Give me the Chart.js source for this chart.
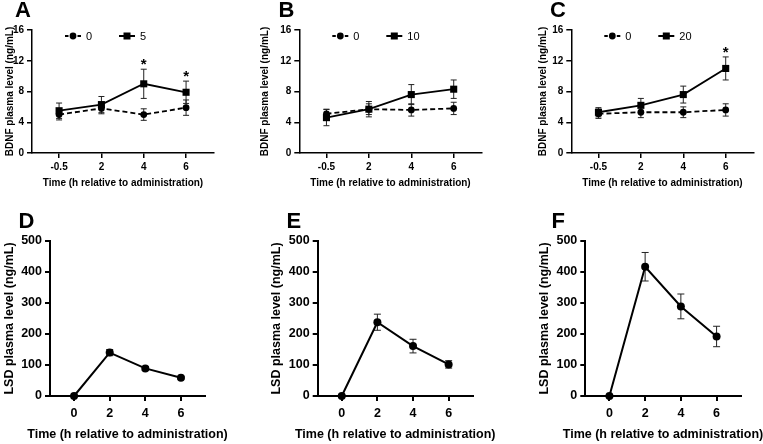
<!DOCTYPE html>
<html>
<head>
<meta charset="utf-8">
<script src="https://cdn.jsdelivr.net/npm/chart.js@4.4.1/dist/chart.umd.min.js"></script>
<style>
  html, body { margin: 0; padding: 0; background: #fff; }
  #wrap { position: relative; width: 763px; height: 444px; overflow: hidden; background: #fff; }
  #wrap canvas { position: absolute; left: 0; top: 0; }
  .lbl { position: absolute; font-family: "Liberation Sans", Arial, sans-serif; font-weight: bold;
         font-size: 22px; line-height: 22px; color: #000; }
</style>
</head>
<body>
<div id="wrap">
  <div class="lbl" style="left:15px;top:-1px">A</div>
  <div class="lbl" style="left:278.5px;top:-1px">B</div>
  <div class="lbl" style="left:550px;top:-1px">C</div>
  <div class="lbl" style="left:18.5px;top:210px">D</div>
  <div class="lbl" style="left:286.5px;top:210px">E</div>
  <div class="lbl" style="left:551.5px;top:210px">F</div>
</div>
<script>
// ---------- DATA ----------
const bdnfTimeLabels = ['-0.5', '2', '4', '6'];
const lsdTimes = [0, 2, 4, 6];

const ctrlA = [5.0, 5.8, 5.0, 5.9];
const ctrlAErr = [0.7, 0.7, 0.75, 1.0];
const doseA = [5.5, 6.3, 9.0, 7.9];
const doseAErr = [1.0, 1.05, 1.9, 1.45];
const sigA = ['', '', '*', '*'];

const ctrlB = [5.1, 5.7, 5.6, 5.8];
const ctrlBErr = [0.6, 0.7, 0.8, 0.8];
const doseB = [4.6, 5.7, 7.6, 8.3];
const doseBErr = [1.05, 1.0, 1.3, 1.2];
const sigB = ['', '', '', ''];

const ctrlC = [5.1, 5.3, 5.3, 5.6];
const ctrlCErr = [0.6, 0.7, 0.7, 0.8];
const doseC = [5.3, 6.2, 7.6, 11.0];
const doseCErr = [0.6, 0.9, 1.1, 1.5];
const sigC = ['', '', '', '*'];

const lsdD = [0, 140, 89, 59];
const lsdDErr = [0, 10, 6, 4];
const lsdE = [0, 238, 161, 102];
const lsdEErr = [0, 26, 22, 12];
const lsdF = [0, 417, 289, 192];
const lsdFErr = [0, 46, 40, 33];

const ctrlLabel = '0';
const doseLabels = ['5', '10', '20'];
const xTitle = 'Time (h relative to administration)';
const bdnfTitle = 'BDNF plasma level (ng/mL)';
const lsdTitle = 'LSD plasma level (ng/mL)';

// ---------- PLUGINS ----------
const FONT = '"Liberation Sans", Arial, sans-serif';
Chart.defaults.color = '#000';
Chart.defaults.font.family = FONT;

const errPlugin = {
  id: 'errbars',
  beforeDatasetsDraw(chart) {
    const { ctx, scales: { x, y } } = chart;
    const cap = chart.options.plugins.errbars.cap;
    chart.data.datasets.forEach(ds => {
      if (!ds.errors) return;
      ctx.save();
      ctx.strokeStyle = '#222';
      ctx.lineWidth = 1;
      ds.data.forEach((p, j) => {
        const e = ds.errors[j];
        if (!e) return;
        const px = x.getPixelForValue(p.x);
        const y1 = y.getPixelForValue(p.y + e);
        const y2 = y.getPixelForValue(p.y - e);
        ctx.beginPath();
        ctx.moveTo(px, y1); ctx.lineTo(px, y2);
        ctx.moveTo(px - cap, y1); ctx.lineTo(px + cap, y1);
        ctx.moveTo(px - cap, y2); ctx.lineTo(px + cap, y2);
        ctx.stroke();
      });
      ctx.restore();
    });
  },
  afterDatasetsDraw(chart) {
    const { ctx, scales: { x, y } } = chart;
    chart.data.datasets.forEach(ds => {
      if (!ds.sig) return;
      ctx.save();
      ctx.fillStyle = '#000';
      ctx.font = 'bold 15px ' + FONT;
      ctx.textAlign = 'center';
      ctx.textBaseline = 'alphabetic';
      ds.data.forEach((p, j) => {
        if (!ds.sig[j]) return;
        const px = x.getPixelForValue(p.x);
        const py = y.getPixelForValue(p.y + (ds.errors ? ds.errors[j] : 0));
        ctx.fillText(ds.sig[j], px, py);
      });
      ctx.restore();
    });
  }
};

const legendPlugin = {
  id: 'inlegend',
  afterDraw(chart) {
    const o = chart.options.plugins.inlegend;
    const { ctx, chartArea } = chart;
    // free-width x-axis title (no squeezing to the axis width)
    if (o && o.xTitle) {
      ctx.save();
      ctx.fillStyle = '#000';
      ctx.font = 'bold ' + o.xTitleSize + 'px ' + FONT;
      ctx.textAlign = 'center';
      ctx.textBaseline = 'middle';
      ctx.fillText(o.xTitle, (chartArea.left + chartArea.right) / 2, chartArea.bottom + o.xTitleOffset);
      ctx.restore();
    }
    if (!o || !o.show) return;
    const cy = chartArea.top + 6;
    chart.data.datasets.forEach((ds, i) => {
      const cx = chartArea.left + 41 + i * 54;
      ctx.save();
      ctx.strokeStyle = '#000';
      ctx.fillStyle = '#000';
      ctx.lineWidth = 2;
      ctx.beginPath();
      if (ds.borderDash && ds.borderDash.length) {
        ctx.moveTo(cx - 8, cy); ctx.lineTo(cx - 4.5, cy);
        ctx.moveTo(cx + 4.5, cy); ctx.lineTo(cx + 8, cy);
      } else {
        ctx.moveTo(cx - 8, cy); ctx.lineTo(cx + 8, cy);
      }
      ctx.stroke();
      if (ds.pointStyle === 'rect') {
        ctx.fillRect(cx - 3.5, cy - 3.5, 7, 7);
      } else {
        ctx.beginPath(); ctx.arc(cx, cy, 3.4, 0, Math.PI * 2); ctx.fill();
      }
      ctx.font = '11px ' + FONT;
      ctx.textAlign = 'left';
      ctx.textBaseline = 'middle';
      ctx.fillText(ds.label, cx + 13, cy + 0.5);
      ctx.restore();
    });
  }
};

// ---------- BUILD ----------
const wrap = document.getElementById('wrap');

function makeChart(cfg) {
  const canvas = document.createElement('canvas');
  canvas.width = 763; canvas.height = 444;
  canvas.style.width = '763px'; canvas.style.height = '444px';
  wrap.insertBefore(canvas, wrap.firstChild);
  const tickFont = { family: FONT, size: cfg.tickSize, weight: 'bold' };
  const titleFont = { family: FONT, size: cfg.titleSize, weight: 'bold' };
  const axisW = cfg.axisW;
  new Chart(canvas, {
    type: 'line',
    data: { datasets: cfg.datasets },
    options: {
      responsive: false,
      animation: false,
      events: [],
      layout: { padding: cfg.pad },
      plugins: {
        legend: { display: false },
        tooltip: { enabled: false },
        errbars: { cap: cfg.cap },
        inlegend: {
          show: cfg.legend,
          xTitle: cfg.customXTitle ? xTitle : null,
          xTitleSize: cfg.titleSize,
          xTitleOffset: cfg.xTitleOffset
        }
      },
      scales: {
        x: {
          type: 'linear',
          position: 'bottom',
          min: cfg.xMin, max: cfg.xMax,
          afterFit: s => { s.height = cfg.xH; },
          afterBuildTicks: s => { s.ticks = cfg.xTicks.map(v => ({ value: v })); },
          ticks: {
            callback: cfg.xLabel, font: tickFont, color: '#000',
            padding: cfg.xTickPad, maxRotation: 0, autoSkip: false
          },
          grid: { display: true, drawOnChartArea: false, drawTicks: true, tickLength: 5, color: '#000', lineWidth: axisW },
          border: { display: true, color: '#000', width: axisW },
          title: { display: !cfg.customXTitle, text: xTitle, font: titleFont, color: '#000', padding: { top: 0, bottom: cfg.xTitlePad } }
        },
        y: {
          type: 'linear',
          position: 'left',
          min: 0, max: cfg.yMax,
          afterFit: s => { s.width = cfg.yW; },
          ticks: { stepSize: cfg.yStep, font: tickFont, color: '#000', padding: 3 },
          grid: { display: true, drawOnChartArea: false, drawTicks: true, tickLength: 5, color: '#000', lineWidth: axisW },
          border: { display: true, color: '#000', width: axisW },
          title: { display: true, text: cfg.yTitle, font: titleFont, color: '#000', padding: { top: cfg.yTitlePad, bottom: 0 } }
        }
      }
    },
    plugins: [errPlugin, legendPlugin]
  });
}

function pts(xs, ys) { return ys.map((v, i) => ({ x: xs[i], y: v })); }
const idx = [0, 1, 2, 3];

function bdnfDatasets(ctrl, ctrlErr, dose, doseErr, sig, doseLabel) {
  return [
    {
      label: ctrlLabel, data: pts(idx, ctrl), errors: ctrlErr,
      borderColor: '#000', backgroundColor: '#000', borderWidth: 1.8, borderDash: [5, 3],
      pointStyle: 'circle', pointRadius: 3.4, pointBackgroundColor: '#000', pointBorderColor: '#000',
      pointBorderWidth: 0, tension: 0, clip: false
    },
    {
      label: doseLabel, data: pts(idx, dose), errors: doseErr, sig: sig,
      borderColor: '#000', backgroundColor: '#000', borderWidth: 1.8, borderDash: [],
      pointStyle: 'rect', pointRadius: 5, pointBackgroundColor: '#000', pointBorderColor: '#000',
      pointBorderWidth: 0, tension: 0, clip: false
    }
  ];
}

function lsdDatasets(vals, errs) {
  return [{
    label: 'LSD', data: pts(lsdTimes, vals), errors: errs,
    borderColor: '#000', backgroundColor: '#000', borderWidth: 2,
    pointStyle: 'circle', pointRadius: 4, pointBackgroundColor: '#000', pointBorderColor: '#000',
    pointBorderWidth: 0, tension: 0, clip: false
  }];
}

const topCommon = {
  tickSize: 10, titleSize: 10, axisW: 1.5, cap: 3, legend: true, xTickPad: 3,
  xMin: -0.64, xMax: 3.66, xTicks: idx, xLabel: v => bdnfTimeLabels[v],
  yMax: 16, yStep: 4, yTitle: bdnfTitle, xH: 40, xTitlePad: 4, yTitlePad: 4,
  customXTitle: false
};
const botCommon = {
  tickSize: 12.5, titleSize: 12.5, axisW: 2, cap: 3.5, legend: false, xTickPad: 5,
  xMin: -1.35, xMax: 7.35, xTicks: lsdTimes, xLabel: v => String(v),
  yMax: 500, yStep: 100, yTitle: lsdTitle, xH: 48, xTitlePad: 1.5, yTitlePad: 2,
  customXTitle: true, xTitleOffset: 39
};

makeChart(Object.assign({}, topCommon, {
  datasets: bdnfDatasets(ctrlA, ctrlAErr, doseA, doseAErr, sigA, doseLabels[0]),
  pad: { left: 0, right: 549, top: 30, bottom: 251 }, yW: 32
}));
makeChart(Object.assign({}, topCommon, {
  datasets: bdnfDatasets(ctrlB, ctrlBErr, doseB, doseBErr, sigB, doseLabels[1]),
  pad: { left: 255, right: 281.3, top: 30, bottom: 251 }, yW: 44.3
}));
makeChart(Object.assign({}, topCommon, {
  datasets: bdnfDatasets(ctrlC, ctrlCErr, doseC, doseCErr, sigC, doseLabels[2]),
  pad: { left: 533, right: 9.3, top: 30, bottom: 251 }, yW: 38.3
}));
makeChart(Object.assign({}, botCommon, {
  datasets: lsdDatasets(lsdD, lsdDErr),
  pad: { left: 0.5, right: 558, top: 241, bottom: 0 }, yW: 49.5
}));
makeChart(Object.assign({}, botCommon, {
  datasets: lsdDatasets(lsdE, lsdEErr),
  pad: { left: 267.2, right: 290.3, top: 241, bottom: 0 }, yW: 50.5
}));
makeChart(Object.assign({}, botCommon, {
  datasets: lsdDatasets(lsdF, lsdFErr),
  pad: { left: 535.2, right: 22.3, top: 241, bottom: 0 }, yW: 50.1
}));
</script>
</body>
</html>
